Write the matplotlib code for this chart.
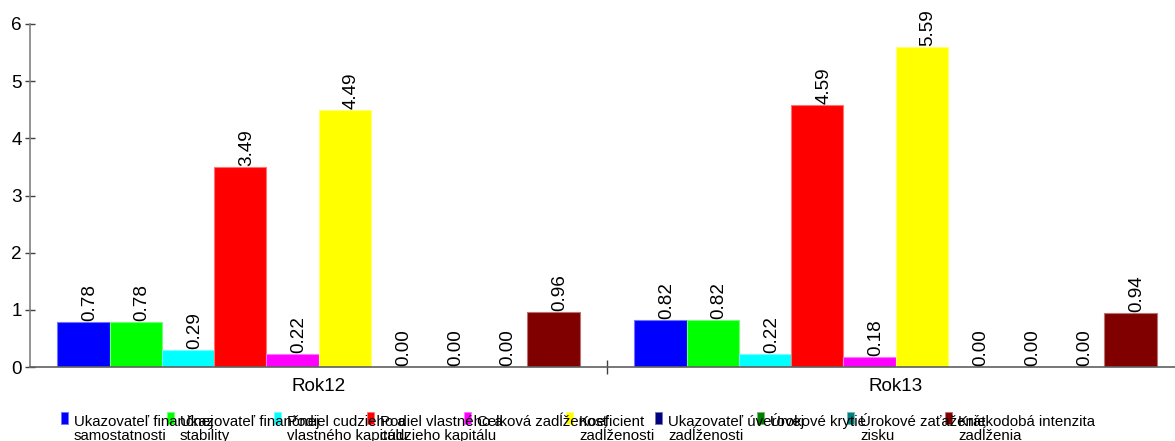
import matplotlib
matplotlib.use("Agg")
import matplotlib.pyplot as plt
from matplotlib.patches import Rectangle
import matplotlib.transforms as mtransforms
import numpy as np

plt.rcParams['font.family'] = ['Liberation Sans', 'DejaVu Sans']

categories = ["Rok12", "Rok13"]
series_labels = [
    "Ukazovateľ finančnej\nsamostatnosti",
    "Ukazovateľ finančnej\nstability",
    "Podiel cudzieho a\nvlastného kapitálu",
    "Podiel vlastného a\ncudzieho kapitálu",
    "Celková zadĺženosť",
    "Koeficient\nzadĺženosti",
    "Ukazovateľ úverovej\nzadĺženosti",
    "Úrokové krytie",
    "Úrokové zaťaženie\nzisku",
    "Krátkodobá intenzita\nzadĺženia",
]
rok12 = [0.78, 0.78, 0.29, 3.49, 0.22, 4.49, 0.00, 0.00, 0.00, 0.96]
rok13 = [0.82, 0.82, 0.22, 4.59, 0.18, 5.59, 0.00, 0.00, 0.00, 0.94]
yticks = [0, 1, 2, 3, 4, 5, 6]

colors = ["#0000FF", "#00FF00", "#00FFFF", "#FF0000", "#FF00FF",
          "#FFFF00", "#000080", "#008000", "#008080", "#800000"]

W, H = 1175, 441
fig = plt.figure(figsize=(W / 100, H / 100), dpi=100)
ax = fig.add_axes([30 / W, 74 / H, 1154 / W, 343 / H])

values = np.array([rok12, rok13])
nser = len(series_labels)
margin = 0.0475
bw = (1 - 2 * margin) / nser

def lighten(c, f=0.45):
    rgb = np.array(matplotlib.colors.to_rgb(c))
    return tuple(rgb + (1 - rgb) * f)

txt_off = mtransforms.offset_copy(ax.transData, fig=fig, x=-2, y=1, units='dots')
for j in range(nser):
    xs = np.arange(len(categories)) + margin + bw * (j + 0.5)
    ax.bar(xs, values[:, j], width=bw, color=colors[j],
           edgecolor=lighten(colors[j]), linewidth=0.8)
    for x, v in zip(xs, values[:, j]):
        ax.text(x, v, f"{v:.2f}", rotation=90, ha='left', va='bottom',
                fontsize=13.6, transform=txt_off)

ax.set_xlim(0, len(categories))
ax.set_ylim(0, 6)
for s in ['top', 'right']:
    ax.spines[s].set_visible(False)
ax.spines['left'].set_color('#808080')
ax.spines['bottom'].set_color('#606060')
ax.spines['left'].set_linewidth(1.2)
ax.spines['bottom'].set_linewidth(1.2)

ax.set_yticks(yticks)
ax.set_yticklabels([str(t) for t in yticks])
ax.tick_params(axis='y', direction='inout', length=7.5, width=1, color='#404040',
               labelsize=13.6, pad=2)
ax.set_xticks([0.5, 1.5])
ax.set_xticklabels(categories)
ax.tick_params(axis='x', which='major', length=0, labelsize=13.6, pad=8)
ax.set_xticks([1], minor=True)
ax.tick_params(axis='x', which='minor', direction='inout', length=10, width=1,
               color='#404040')

# legend (manual, bottom)
marker_x = [61, 167, 274, 367, 464, 566, 655, 757, 847, 945]
baselines = [426, 440]
for mx, c, lab in zip(marker_x, colors, series_labels):
    fig.add_artist(Rectangle((mx / W, 1 - 424 / H), 7 / W, 12 / H,
                             transform=fig.transFigure, facecolor=c,
                             edgecolor=lighten(c), linewidth=0.6))
    for line, by in zip(lab.split("\n"), baselines):
        fig.text((mx + 13) / W, 1 - by / H, line, ha='left', va='baseline',
                 fontsize=10.8)

fig.savefig("out.png", dpi=100)
